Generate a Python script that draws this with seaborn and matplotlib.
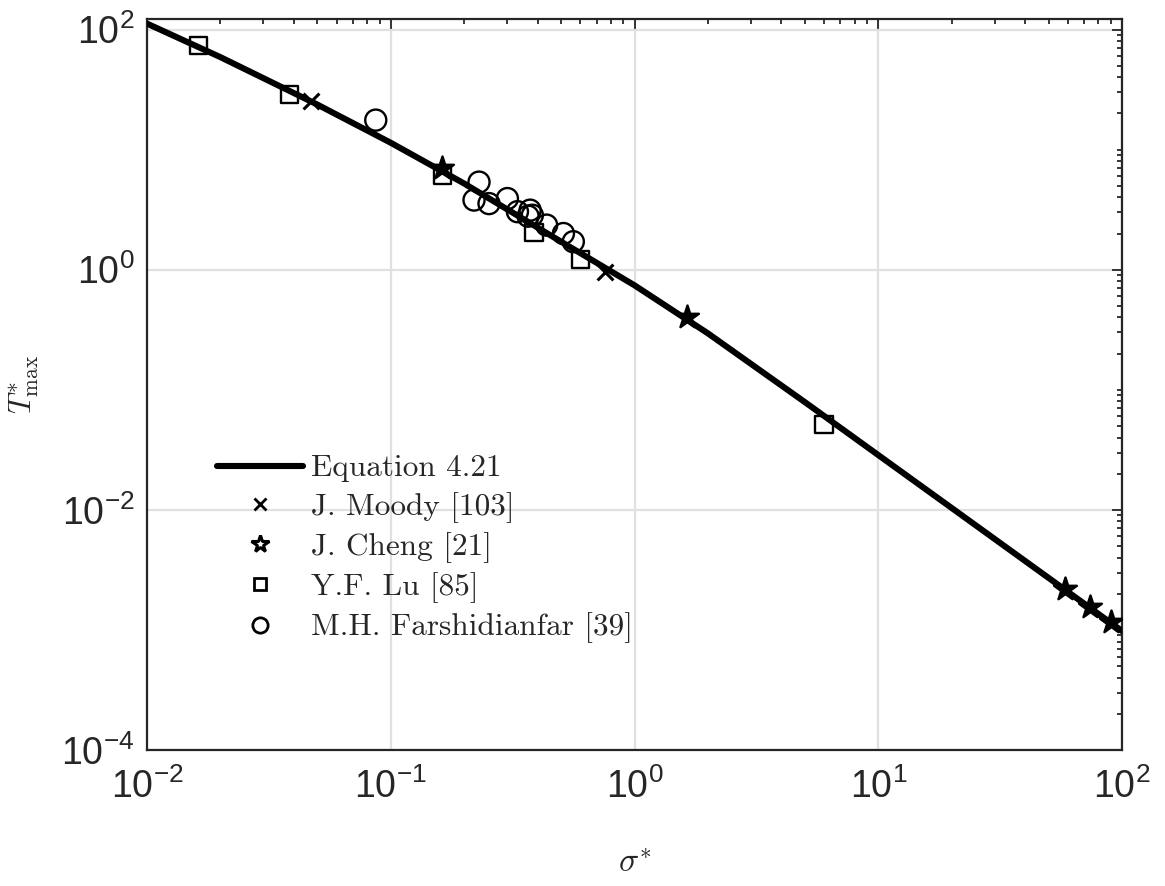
import numpy as np
import pandas as pd
import matplotlib
matplotlib.use("Agg")
import matplotlib.pyplot as plt
import seaborn as sns
from matplotlib.lines import Line2D
from matplotlib.ticker import LogLocator, NullFormatter

# Equation 4.21 (dimensionless peak temperature vs. dimensionless beam size)
eq_sigma = [0.01, 0.02, 0.05, 0.1, 0.2, 0.5, 1, 2, 5, 10, 20, 50, 100]
eq_tmax = [112, 58.9, 23.7, 11.4, 5.22, 1.71, 0.741, 0.295, 0.0789, 0.0286, 0.01037, 2.71e-3, 9.8e-4]

# Literature data
moody_sigma = [0.0471, 0.757]
moody_tmax = [25.4, 0.962]

cheng_sigma = [0.1618, 1.637, 58.5, 73.9, 89.8]
cheng_tmax = [7.0, 0.404, 2.21e-3, 1.54e-3, 1.16e-3]

lu_sigma = [0.01634, 0.0386, 0.1623, 0.387, 0.603, 5.99]
lu_tmax = [72.9, 29.0, 6.13, 2.05, 1.22, 0.0516]

farsh_sigma = [0.0868, 0.2302, 0.2196, 0.253, 0.301, 0.331, 0.373, 0.381, 0.366, 0.436, 0.511, 0.561]
farsh_tmax = [17.6, 5.36, 3.80, 3.55, 3.91, 3.04, 3.13, 2.84, 2.79, 2.35, 2.00, 1.71]

legend_labels = ["Equation 4.21", "J. Moody [103]", "J. Cheng [21]", "Y.F. Lu [85]",
                 "M.H. Farshidianfar [39]"]

sns.set_style("white")
plt.rcParams["font.family"] = ["Liberation Sans", "DejaVu Sans"]
plt.rcParams["mathtext.fontset"] = "custom"
plt.rcParams["mathtext.rm"] = "Liberation Sans"
plt.rcParams["mathtext.it"] = "Liberation Sans:italic"

W, H = 1165, 886
fig = plt.figure(figsize=(W / 100, H / 100), dpi=100)
ax_l, ax_r, ax_t, ax_b = 147, 1122, 19, 750
ax = fig.add_axes([ax_l / W, 1 - ax_b / H, (ax_r - ax_l) / W, (ax_b - ax_t) / H])

ink = "#262626"

eq_df = pd.DataFrame({"sigma": eq_sigma, "tmax": eq_tmax})
sns.lineplot(data=eq_df, x="sigma", y="tmax", color="black", linewidth=4.4,
             ax=ax, zorder=3, sort=True)

mk = dict(edgecolor="black", linewidth=1.7, zorder=4, ax=ax, legend=False)
sns.scatterplot(x=moody_sigma, y=moody_tmax, marker="x", s=130, color="black",
                linewidth=2.2, zorder=4, ax=ax, legend=False)
sns.scatterplot(x=cheng_sigma, y=cheng_tmax, marker="*", s=300, color="black", **mk)
sns.scatterplot(x=lu_sigma, y=lu_tmax, marker="s", s=150, facecolors="none", **mk)
sns.scatterplot(x=farsh_sigma, y=farsh_tmax, marker="o", s=230, facecolors="none", **mk)

ax.set_xscale("log")
ax.set_yscale("log")
ax.set_xlim(1e-2, 1e2)
ax.set_ylim(1e-4, 10 ** (2 + (29.5 - ax_t) / 120))

ax.set_xticks([1e-2, 1e-1, 1e0, 1e1, 1e2])
ax.set_yticks([1e-4, 1e-2, 1e0, 1e2])
ax.xaxis.set_minor_locator(LogLocator(base=10, subs=np.arange(2, 10), numticks=20))
ax.yaxis.set_minor_locator(LogLocator(base=10, subs=np.arange(1, 10), numticks=20))
ax.xaxis.set_minor_formatter(NullFormatter())
ax.yaxis.set_minor_formatter(NullFormatter())

ax.grid(True, which="major", color="#e0e0e0", linewidth=1.6, zorder=0)
ax.set_axisbelow(True)
ax.tick_params(which="both", direction="in", top=True, right=True, colors=ink,
               labelsize=27, width=1.3)
ax.tick_params(which="major", length=7)
ax.tick_params(axis="x", which="major", pad=13)
ax.tick_params(axis="y", which="major", pad=9)
ax.tick_params(which="minor", length=3.5)
for s in ax.spines.values():
    s.set_visible(True)
    s.set_color(ink)
    s.set_linewidth(1.6)

ax.set_xlabel(r"$\sigma^{*}$", fontsize=24, math_fontfamily="cm", labelpad=31)
ax.set_ylabel(r"$T^{*}_{\max}$", fontsize=22, math_fontfamily="cm", labelpad=14)

handles = [
    Line2D([], [], color="black", linewidth=4.4),
    Line2D([], [], color="black", marker="x", linestyle="none", markersize=8,
           markeredgewidth=2.0),
    Line2D([], [], color="black", marker="*", linestyle="none", markersize=13,
           markerfacecolor="white", markeredgecolor="black", markeredgewidth=2.2),
    Line2D([], [], color="black", marker="s", linestyle="none", markersize=9,
           markerfacecolor="none", markeredgewidth=2.0),
    Line2D([], [], color="black", marker="o", linestyle="none", markersize=11,
           markerfacecolor="none", markeredgewidth=2.0),
]
leg = ax.legend(handles, legend_labels, loc="center left",
                bbox_to_anchor=(217 / W, 1 - 549 / H), bbox_transform=fig.transFigure,
                frameon=False, prop={"family": "cmr10", "size": 22.5},
                handlelength=2.75, handletextpad=0.27, borderpad=0, labelspacing=0.3,
                borderaxespad=0)

fig.savefig("out.png", dpi=100)
